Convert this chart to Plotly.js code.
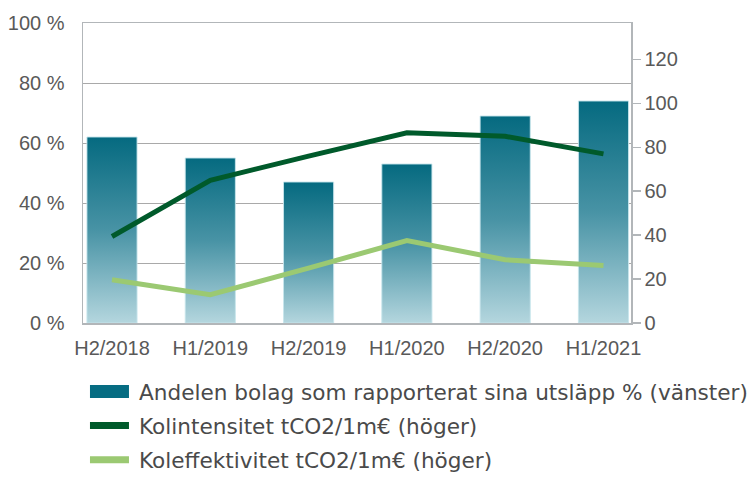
<!DOCTYPE html>
<html>
<head>
<meta charset="utf-8">
<script src="https://cdn.plot.ly/plotly-3.0.1.min.js"></script>
<style>
html,body{margin:0;padding:0;background:#fff;}
#chart{width:752px;height:478px;}
</style>
</head>
<body>
<div id="chart"></div>
<script>
const categories = ["H2/2018", "H1/2019", "H2/2019", "H1/2020", "H2/2020", "H1/2021"];
const shareReported = [62, 55, 47, 53, 69, 74];
const carbonIntensity = [39.4, 65, 76, 86.6, 85, 77];
const carbonEfficiency = [19.7, 12.9, 25, 37.5, 28.8, 26.2];
const seriesNames = [
  "Andelen bolag som rapporterat sina utsläpp % (vänster)",
  "Kolintensitet tCO2/1m€ (höger)",
  "Koleffektivitet tCO2/1m€ (höger)"
];

const tickFont = {family: "Liberation Sans, Arial, sans-serif", size: 20, color: "#595959"};

const traces = [
  {
    type: "bar", x: categories, y: shareReported, name: seriesNames[0],
    marker: {color: "#066C82", line: {color: "rgba(200,230,236,0.9)", width: 1}},
    legendgroup: "a", yaxis: "y", hoverinfo: "skip"
  },
  {
    type: "scatter", mode: "lines", x: categories, y: carbonIntensity, name: seriesNames[1],
    line: {color: "#005A2B", width: 5}, legendgroup: "b", yaxis: "y2", hoverinfo: "skip"
  },
  {
    type: "scatter", mode: "lines", x: categories, y: carbonEfficiency, name: seriesNames[2],
    line: {color: "#9BC972", width: 5}, legendgroup: "c", yaxis: "y2", hoverinfo: "skip"
  }
];

const layout = {
  width: 752, height: 478,
  margin: {l: 83, r: 121, t: 23, b: 155, autoexpand: false},
  paper_bgcolor: "#fff", plot_bgcolor: "#fff",
  bargap: 0.49,
  showlegend: true,
  legend: {
    x: 0.0036, xanchor: "left", y: -0.16, yanchor: "top",
    orientation: "v", traceorder: "grouped", tracegroupgap: 3,
    itemwidth: 44, borderwidth: 0,
    font: {family: "DejaVu Sans, sans-serif", size: 21.6, color: "#4a4a4a"},
    bgcolor: "rgba(0,0,0,0)"
  },
  xaxis: {
    type: "category", range: [-0.295, 5.28],
    showline: true, mirror: true, linecolor: "#B2B6B9", linewidth: 1.5,
    showgrid: false, ticks: "", ticklabelstandoff: 6, tickfont: tickFont, fixedrange: true
  },
  yaxis: {
    range: [0, 100], dtick: 20, ticksuffix: " %",
    showline: true, linecolor: "#B2B6B9", linewidth: 1.5,
    showgrid: true, gridcolor: "rgba(50,50,50,0.42)", gridwidth: 1,
    zeroline: false, ticks: "", ticklabelstandoff: 13,
    tickfont: tickFont, layer: "above traces", fixedrange: true
  },
  yaxis2: {
    overlaying: "y", side: "right", range: [0, 136.6], tickvals: [0, 20, 40, 60, 80, 100, 120],
    showline: true, linecolor: "#B2B6B9", linewidth: 1.5,
    showgrid: false, zeroline: false,
    ticks: "outside", ticklen: 8, tickcolor: "#B2B6B9", tickwidth: 1.5,
    tickfont: tickFont, fixedrange: true
  }
};

Plotly.newPlot("chart", traces, layout, {staticPlot: true, displayModeBar: false}).then(function (gd) {
  const svgNS = "http://www.w3.org/2000/svg";
  const svg = gd.querySelector("svg.main-svg");
  let defs = svg.querySelector("defs");
  if (!defs) { defs = document.createElementNS(svgNS, "defs"); svg.insertBefore(defs, svg.firstChild); }
  const grad = document.createElementNS(svgNS, "linearGradient");
  grad.setAttribute("id", "barGrad");
  grad.setAttribute("x1", "0"); grad.setAttribute("y1", "0");
  grad.setAttribute("x2", "0"); grad.setAttribute("y2", "1");
  [["0", "#056A80"], ["0.5", "#4893A5"], ["1", "#B4D6DE"]].forEach(function (s) {
    const st = document.createElementNS(svgNS, "stop");
    st.setAttribute("offset", s[0]); st.setAttribute("stop-color", s[1]);
    grad.appendChild(st);
  });
  defs.appendChild(grad);
  gd.querySelectorAll(".barlayer .point path").forEach(function (p) {
    p.style.fill = "url(#barGrad)";
  });
  const items = gd.querySelectorAll(".legend .traces");
  items.forEach(function (it, i) {
    if (i === 0) {
      const p = it.querySelector(".legendpoints path");
      if (p) { p.setAttribute("d", "M5,-6.5h39v13h-39Z"); p.removeAttribute("transform"); p.style.stroke = "none"; p.style.fill = "#066C82"; }
    } else {
      const p = it.querySelector(".legendlines path");
      if (p) { p.setAttribute("d", "M5,0h39"); p.style.strokeWidth = "7px"; }
    }
  });
});
</script>
</body>
</html>
